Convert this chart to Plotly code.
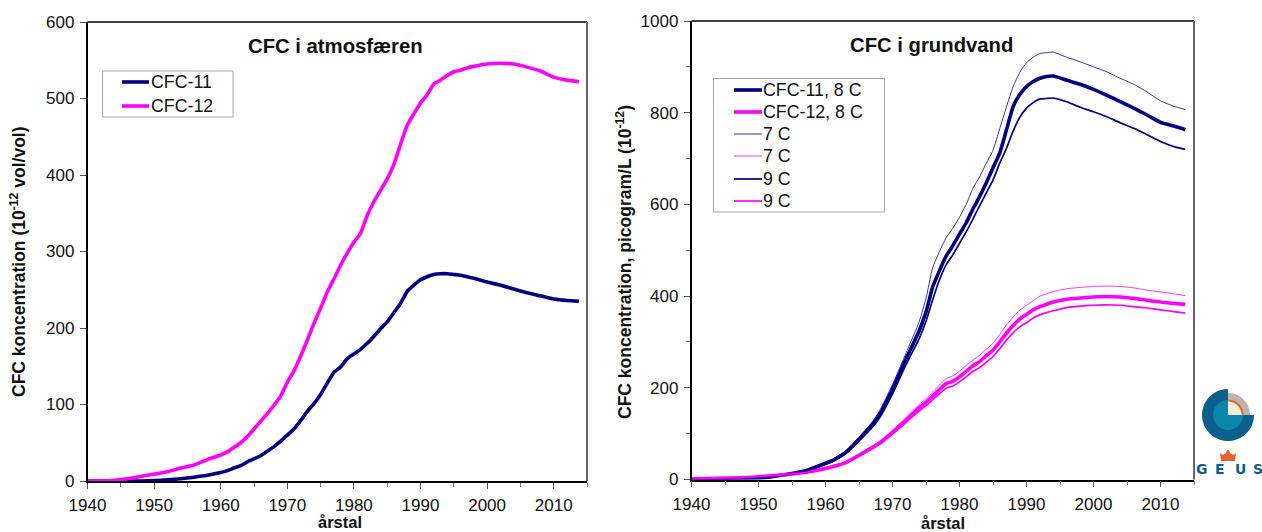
import math
import plotly.graph_objects as go

W, H = 1262, 532

years_a = [1940,1942,1944,1946,1948,1950,1952,1954,1956,1958,1960,1961,1962,1963,1964,1965,1966,1967,1968,1969,1970,1971,1972,1973,1974,1975,1976,1977,1978,1979,1980,1981,1982,1983,1984,1985,1986,1987,1988,1989,1990,1991,1992,1993,1994,1995,1996,1997,1998,2000,2002,2004,2006,2008,2010,2012,2013.8]
cfc11_air = [0,0,0,0,0,0.5,1.5,3,5,7.5,11,13.5,17,20,25,29,33,39,45,52,60,68,79,91,101,113,128,142,149,160,166,172,180,189,199,208,220,232,248,256,263,267,270,271,271,270,269,267,265,260,256,251,246,242,238,236,235]
cfc12_air = [0,0,1,3,6,9,12,17,21,28,34,38,44,50,58,68,78,88,99,111,129,144,163,184,206,226,247,264,282,298,312,324,347,365,380,395,414,440,465,480,494,505,519,524,530,535,537,540,542,545,546,545,541,536,528,524,522]

years_g = [1940,1945,1948,1950,1952,1955,1957,1959,1961,1963,1965,1967,1968,1970,1972,1974,1975,1976,1977,1978,1979,1980,1981,1982,1983,1984,1985,1986,1987,1988,1989,1990,1991,1992,1993,1994,1996,1998,2000,2002,2004,2006,2008,2010,2012,2013.7]
cfc11_8 = [1,1,2,3,6,13,19,30,41,59,88,120,140,197,262,325,365,420,455,487,510,535,560,590,617,647,680,712,762,813,840,857,868,875,879,880,871,862,851,838,824,810,795,779,771,763]
cfc12_8 = [1,3,4,6,8,12,16,21,28,37,53,70,79,103,129,157,168,182,196,209,214,224,236,248,257,270,282,300,319,336,350,360,370,377,382,387,393,396,398,399,398,395,391,387,384,382]
cfc11_7 = [1,1,2,3,6,14,20,32,44,62,92,126,148,207,275,345,395,462,497,527,548,572,600,635,660,690,718,765,812,857,888,909,921,929,931,932,921,911,900,889,875,862,845,826,814,807]
cfc12_7 = [1,3,4,6,8,12,16,22,29,38,55,72,82,107,135,164,176,191,206,220,226,236,249,260,271,284,297,316,337,354,369,380,390,400,405,410,416,419,421,422,421,418,413,409,405,401]
cfc11_9 = [1,1,2,3,6,12,18,28,39,56,84,114,133,187,250,308,345,392,435,468,490,515,540,568,597,625,653,690,722,760,790,810,822,830,831,832,824,812,802,791,778,766,752,737,726,720]
cfc12_9 = [1,3,4,6,8,12,15,20,27,35,51,67,76,99,124,150,161,174,187,199,204,213,224,236,244,256,268,285,304,320,333,342,352,359,364,368,375,378,380,381,380,377,374,370,366,363]

NAVY, MAG = "#000080", "#FF00FF"
FONT = "Liberation Sans, Arial, sans-serif"
TXT = "#111111"

fig = go.Figure()
air = [("CFC-11", cfc11_air, NAVY, 3.6), ("CFC-12", cfc12_air, MAG, 3.6)]
ground = [("CFC-11, 8 C", cfc11_8, NAVY, 3.6), ("CFC-12, 8 C", cfc12_8, MAG, 3.6),
          ("7 C", cfc11_7, NAVY, 0.8), ("7 C", cfc12_7, MAG, 0.8),
          ("9 C", cfc11_9, NAVY, 1.7), ("9 C", cfc12_9, MAG, 1.7)]
for nm, vals, col, lw in air:
    fig.add_scatter(x=years_a, y=vals, name=nm, mode="lines", cliponaxis=False,
                    line=dict(color=col, width=lw, shape="spline", smoothing=0.5))
for nm, vals, col, lw in ground:
    fig.add_scatter(x=years_g, y=vals, name=nm, mode="lines", xaxis="x2", yaxis="y2", cliponaxis=False,
                    line=dict(color=col, width=lw, shape="spline", smoothing=0.5))

def px(x): return x / W
def py(y): return 1 - y / H

ax = dict(showgrid=False, zeroline=False, showline=True, linecolor="#000000", linewidth=1.5, mirror=False,
          ticks="outside", ticklen=6, tickwidth=1, tickcolor="#555555", ticklabelstandoff=2,
          tickfont=dict(family=FONT, size=17, color=TXT), automargin=False)

xticks = dict(dtick=10, tick0=1940, range=[1940, 2015],
              minor=dict(dtick=5, tick0=1940, ticks="outside", ticklen=4, tickcolor="#777777", tickwidth=1, showgrid=False))

fig.update_layout(
    width=W, height=H, autosize=False, margin=dict(l=0, r=0, t=0, b=0),
    paper_bgcolor="white", plot_bgcolor="white", showlegend=False,
    font=dict(family=FONT, color=TXT),
    xaxis=dict(**ax, **xticks, domain=[px(87.5), px(587)], anchor="y"),
    yaxis=dict(**ax, domain=[py(481), py(22)], range=[0, 600], dtick=100, anchor="x"),
    xaxis2=dict(**ax, **xticks, domain=[px(691.5), px(1194)], anchor="y2"),
    yaxis2=dict(**ax, domain=[py(479.5), py(21)], range=[0, 1000], dtick=200, anchor="x2",
                minor=dict(dtick=100, ticks="outside", ticklen=4, tickcolor="#777777", tickwidth=1, showgrid=False)),
)

def note(text, x, y, size, bold=True, angle=0, color=TXT, family=FONT, anchor="center"):
    fig.add_annotation(text=f"<b>{text}</b>" if bold else text, x=px(x), y=py(y), xref="paper", yref="paper",
                       showarrow=False, font=dict(family=family, size=size, color=color), textangle=angle,
                       xanchor=anchor, yanchor="middle", borderpad=0, borderwidth=0)

def line(x0, y0, x1, y1, c, w):
    fig.add_shape(type="line", x0=px(x0), y0=py(y0), x1=px(x1), y1=py(y1), xref="paper", yref="paper",
                  line=dict(color=c, width=w))

note("CFC i atmosfæren", 335, 46, 20.3)
note("CFC i grundvand", 931, 45, 20.3)
note("årstal", 340, 522, 16.5)
note("årstal", 943, 523, 16.5)
note("CFC koncentration (10<sup>-12</sup> vol/vol)", 18, 262, 17.5, angle=-90)
note("CFC koncentration, picogram/L (10<sup>-12</sup>)", 624, 262, 17.5, angle=-90)

# frame top and right edges
line(87.5, 22, 587, 22, "#000000", 1.5)
line(587, 22, 587, 481, "#666666", 2)
line(691.5, 21, 1194, 21, "#000000", 1.5)
line(1194, 21, 1194, 479.5, "#666666", 2)

# legends
def legend(box, items, rows, lx0, lx1, tx):
    fig.add_shape(type="rect", x0=px(box[0]), x1=px(box[1]), y0=py(box[2]), y1=py(box[3]), xref="paper", yref="paper",
                  fillcolor="white", line=dict(color="#a8a8a8", width=1))
    for (nm, _, col, lw), y in zip(items, rows):
        line(lx0, y, lx1, y, col, lw)
        note(nm, tx, y, 17.8, bold=False, anchor="left")

legend((102.5, 233, 71, 117), air, [82, 106], 122, 149, 151)
legend((713.5, 884.5, 78.5, 212), ground, [90, 112, 134, 156, 179, 201], 734, 762, 763)

# GEUS logo
CX, CY = 1228, 415
def poly(pts, color):
    path = "M " + " L ".join(f"{px(x):.5f},{py(y):.5f}" for x, y in pts) + " Z"
    fig.add_shape(type="path", path=path, xref="paper", yref="paper", fillcolor=color, line=dict(width=0))

def sector(r, a0, a1, color, r2=0):
    pts = [(CX + r * math.cos(math.radians(a)), CY - r * math.sin(math.radians(a)))
           for a in [a0 + (a1 - a0) * i / 40 for i in range(41)]]
    if r2:
        pts += [(CX + r2 * math.cos(math.radians(a)), CY - r2 * math.sin(math.radians(a)))
                for a in [a1 + (a0 - a1) * i / 40 for i in range(41)]]
    else:
        pts.append((CX, CY))
    poly(pts, color)

sector(26, 90, 360, "#0b5f8c")
sector(22, 0, 90, "#bfb3ac")
sector(15, 90, 360, "#0a86ad")
sector(14, 0, 90, "#f0efd8")
sector(15.5, 2, 88, "#e8622c", 13.5)
poly([(1221, 461), (1235, 461), (1236, 453), (1233, 455), (1230, 453), (1229, 450), (1227, 450), (1226, 453), (1223, 455), (1220, 453)], "#e8622c")
for ch, x in zip("GEUS", [1202, 1220, 1240, 1258]):
    note(ch, x, 469, 14, color="#0b5f8c", family="DejaVu Sans")

fig.write_html("out.html", post_script="document.body.style.margin='0';", config={"displayModeBar": False})
